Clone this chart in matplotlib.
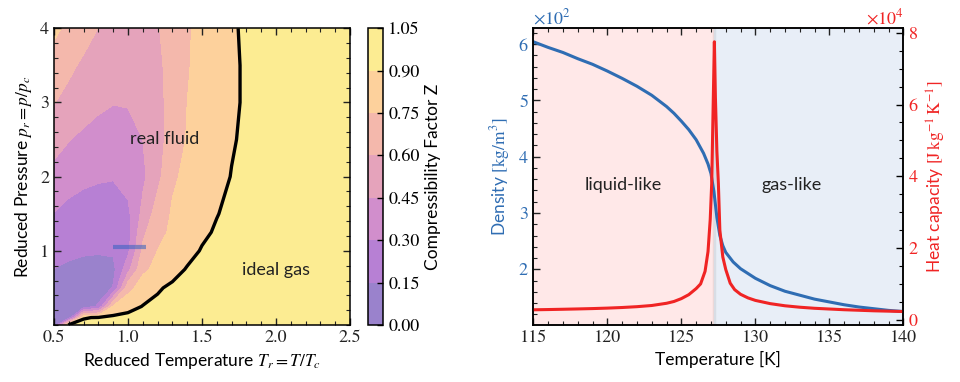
import numpy as np
import matplotlib
matplotlib.use("Agg")
import matplotlib.pyplot as plt
from matplotlib.ticker import MultipleLocator, ScalarFormatter

plt.rcParams['font.family'] = ['Lato', 'DejaVu Sans']
plt.rcParams['mathtext.fontset'] = 'stix'

# --- compressibility factor map (reduced temperature x reduced pressure) ---
Tr_nodes = [0.5, 0.6, 0.7, 0.8, 0.9, 1.0, 1.1, 1.2, 1.3, 1.4, 1.5, 1.6, 1.7, 1.8, 2.0, 2.5]
pr_nodes = [0.0, 0.1, 0.25, 0.5, 0.75, 1.0, 1.25, 1.5, 2.0, 2.5, 3.0, 3.5, 4.0]
Z_rows = [
    [0.02, 0.93, 0.94, 0.95, 0.955, 0.96, 0.965, 0.97, 0.975, 0.978, 0.98, 0.985, 0.99, 0.99, 0.995, 1.0],
    [0.03, 0.05, 0.89, 0.91, 0.93, 0.94, 0.95, 0.96, 0.97, 0.975, 0.98, 0.985, 0.99, 0.99, 0.995, 1.0],
    [0.03, 0.03, 0.06, 0.17, 0.77, 0.85, 0.905, 0.93, 0.945, 0.955, 0.965, 0.97, 0.975, 0.98, 0.99, 1.0],
    [0.06, 0.05, 0.05, 0.07, 0.16, 0.70, 0.82, 0.885, 0.925, 0.945, 0.955, 0.965, 0.97, 0.975, 0.985, 1.0],
    [0.148, 0.12, 0.10, 0.10, 0.11, 0.40, 0.72, 0.79, 0.85, 0.91, 0.935, 0.95, 0.96, 0.965, 0.975, 1.0],
    [0.20, 0.185, 0.17, 0.162, 0.17, 0.27, 0.63, 0.752, 0.80, 0.855, 0.91, 0.935, 0.95, 0.96, 0.975, 1.0],
    [0.25, 0.21, 0.185, 0.175, 0.185, 0.24, 0.57, 0.70, 0.78, 0.825, 0.875, 0.915, 0.94, 0.955, 0.97, 1.0],
    [0.295, 0.25, 0.22, 0.21, 0.22, 0.27, 0.49, 0.67, 0.765, 0.81, 0.85, 0.895, 0.93, 0.945, 0.965, 1.0],
    [0.405, 0.37, 0.34, 0.32, 0.31, 0.35, 0.42, 0.557, 0.73, 0.779, 0.82, 0.862, 0.904, 0.93, 0.96, 1.0],
    [0.505, 0.455, 0.42, 0.39, 0.38, 0.395, 0.45, 0.55, 0.66, 0.761, 0.804, 0.847, 0.89, 0.92, 0.955, 1.0],
    [0.605, 0.555, 0.515, 0.48, 0.455, 0.46, 0.50, 0.56, 0.65, 0.75, 0.793, 0.836, 0.88, 0.915, 0.955, 1.0],
    [0.69, 0.63, 0.575, 0.53, 0.49, 0.48, 0.51, 0.57, 0.653, 0.74, 0.79, 0.835, 0.88, 0.915, 0.955, 1.0],
    [0.78, 0.718, 0.659, 0.598, 0.54, 0.50, 0.53, 0.59, 0.662, 0.735, 0.788, 0.836, 0.884, 0.92, 0.96, 1.0],
]
Z_levels = [0.0, 0.15, 0.30, 0.45, 0.60, 0.75, 0.90, 1.05]
crit_Tr = [0.9, 1.12]
crit_pr = [1.05, 1.05]

# --- density and heat capacity across the pseudo-critical line ---
T_rho = [115.0, 116.0, 117.0, 118.0, 119.0, 120.0, 121.0, 122.0, 123.0, 124.0, 124.5, 125.0,
         125.5, 126.0, 126.5, 126.8, 127.0, 127.2, 127.4, 127.6, 127.8, 128.0, 128.5, 129.0,
         130.0, 131.0, 132.0, 133.0, 134.0, 135.0, 136.0, 137.0, 138.0, 139.0, 140.0]
rho = [604, 594, 585, 574, 564, 552, 539, 525, 509, 489, 477, 463,
       448, 430, 406, 387, 370, 338, 292, 260, 242, 230, 213, 201,
       184, 171, 161, 154, 147, 142, 137, 133, 130, 127, 125]

T_cp = [115.0, 116.0, 117.0, 118.0, 119.0, 120.0, 121.0, 122.0, 123.0, 124.0, 124.5, 125.0,
        125.5, 126.0, 126.3, 126.6, 126.8, 126.95, 127.05, 127.15, 127.23, 127.3, 127.4, 127.5,
        127.6, 127.8, 128.0, 128.3, 128.6, 129.0, 129.5, 130.0, 131.0, 132.0, 133.0, 134.0,
        135.0, 136.0, 137.0, 138.0, 139.0, 140.0]
cp = [2780, 2850, 2930, 3020, 3120, 3250, 3420, 3650, 3980, 4600, 5100, 5900,
      7000, 8700, 10000, 13500, 19000, 28000, 38000, 60000, 77500, 62000, 47000, 38000,
      25000, 17500, 14000, 10200, 8400, 7100, 6100, 5400, 4500, 3900, 3500, 3200,
      3000, 2800, 2650, 2500, 2400, 2300]
T_pseudo = 127.23

blue = '#2f6db3'
red = '#f02424'
tick_font = 'STIXGeneral'

# plasma bands washed out to half strength over white (opaque, so no seams)
mids = np.linspace(0.5, len(Z_levels) - 1.5, len(Z_levels) - 1) / (len(Z_levels) - 1)
band_colors = [tuple(0.5 * np.array(plt.cm.plasma(m)[:3]) + 0.5) for m in mids]

fig = plt.figure(figsize=(9.6, 3.82), dpi=100)
ax1 = fig.add_axes([0.05625, 0.1492, 0.3083, 0.7767])
cax = fig.add_axes([0.3837, 0.1492, 0.0156, 0.7767])
ax2 = fig.add_axes([0.5556, 0.1492, 0.3854, 0.7767])
ax3 = ax2.twinx()

# left: filled Z map with the Z = 0.9 line marking the ideal-gas limit
Z = np.array(Z_rows)
cf = ax1.contourf(Tr_nodes, pr_nodes, Z, levels=Z_levels, colors=band_colors)
ax1.contour(Tr_nodes, pr_nodes, Z, levels=[0.9], colors='black', linewidths=2.4)
ax1.plot(crit_Tr, crit_pr, color='#3060c0', alpha=0.55, lw=3, solid_capstyle='butt')

ax1.text(1.25, 2.51, 'real fluid', ha='center', va='center', fontsize=13, color='#222222')
ax1.text(2.0, 0.74, 'ideal gas', ha='center', va='center', fontsize=13, color='#222222')

ax1.set_xlim(0.5, 2.5)
ax1.set_ylim(0.0, 4.0)
ax1.set_xticks([0.5, 1.0, 1.5, 2.0, 2.5])
ax1.set_yticks([1, 2, 3, 4])
ax1.xaxis.set_minor_locator(MultipleLocator(0.1))
ax1.yaxis.set_minor_locator(MultipleLocator(0.2))
ax1.set_xlabel(r'Reduced Temperature $T_r = T/T_c$', fontsize=12.5)
ax1.set_ylabel(r'Reduced Pressure $p_r = p/p_c$', fontsize=12.5)

cb = fig.colorbar(cf, cax=cax, ticks=Z_levels, format='%.2f')
cb.set_label('Compressibility Factor Z', fontsize=12.5)
cb.ax.tick_params(labelsize=13, labelfontfamily=tick_font, direction='in', length=4, width=1)
cb.outline.set_linewidth(1.1)

# right: density (left axis) and heat capacity (right axis)
ax2.axvspan(115, T_pseudo, color='#ff0000', alpha=0.09, lw=0)
ax2.axvspan(T_pseudo, 140, color='#1f5fb4', alpha=0.1, lw=0)
ax2.axvline(T_pseudo, color='gray', alpha=0.15, lw=2.5)

ax2.plot(T_rho, rho, color=blue, lw=2.2)
ax3.plot(T_cp, cp, color=red, lw=2.2)

ax3.text(121.08, 37500, 'liquid-like', ha='center', va='center', fontsize=13, color='#222222')
ax3.text(132.46, 37500, 'gas-like', ha='center', va='center', fontsize=13, color='#222222')

ax2.set_xlim(115, 140)
ax2.xaxis.set_major_locator(MultipleLocator(5))
ax2.xaxis.set_minor_locator(MultipleLocator(1))
ax2.yaxis.set_major_locator(MultipleLocator(100))
ax2.yaxis.set_minor_locator(MultipleLocator(20))
ax3.yaxis.set_major_locator(MultipleLocator(20000))
ax3.yaxis.set_minor_locator(MultipleLocator(5000))

for ax in (ax2, ax3):
    ax.yaxis.set_major_formatter(ScalarFormatter(useMathText=True))
    ax.ticklabel_format(axis='y', style='sci', scilimits=(0, 0))

ax2.set_xlabel('Temperature [K]', fontsize=12.5)
ax2.set_ylabel(r'Density $[\mathrm{kg/m^3}]$', color=blue, fontsize=12.5)
ax3.set_ylabel(r'Heat capacity $[\mathrm{J\,kg^{-1}\,K^{-1}}]$', color=red, fontsize=12.5)

ax2.yaxis.get_offset_text().set_color(blue)
ax3.yaxis.get_offset_text().set_color(red)
for ax in (ax2, ax3):
    off = ax.yaxis.get_offset_text()
    off.set_fontsize(13)
    off.set_fontfamily(tick_font)

# ticks: inward on every side
for ax in (ax1, ax2):
    ax.tick_params(which='both', direction='in', top=True, labelsize=13,
                   labelfontfamily=tick_font, colors='#222222')
ax1.tick_params(which='both', right=True)
ax2.tick_params(axis='y', labelcolor=blue)
ax3.tick_params(which='both', direction='in', labelsize=13, labelfontfamily=tick_font,
                labelcolor=red)
for ax in (ax1, ax2, ax3):
    ax.tick_params(which='major', length=5, width=1)
    ax.tick_params(which='minor', length=3, width=0.8)
    for s in ax.spines.values():
        s.set_linewidth(1.1)

fig.savefig('out.png', dpi=100)
